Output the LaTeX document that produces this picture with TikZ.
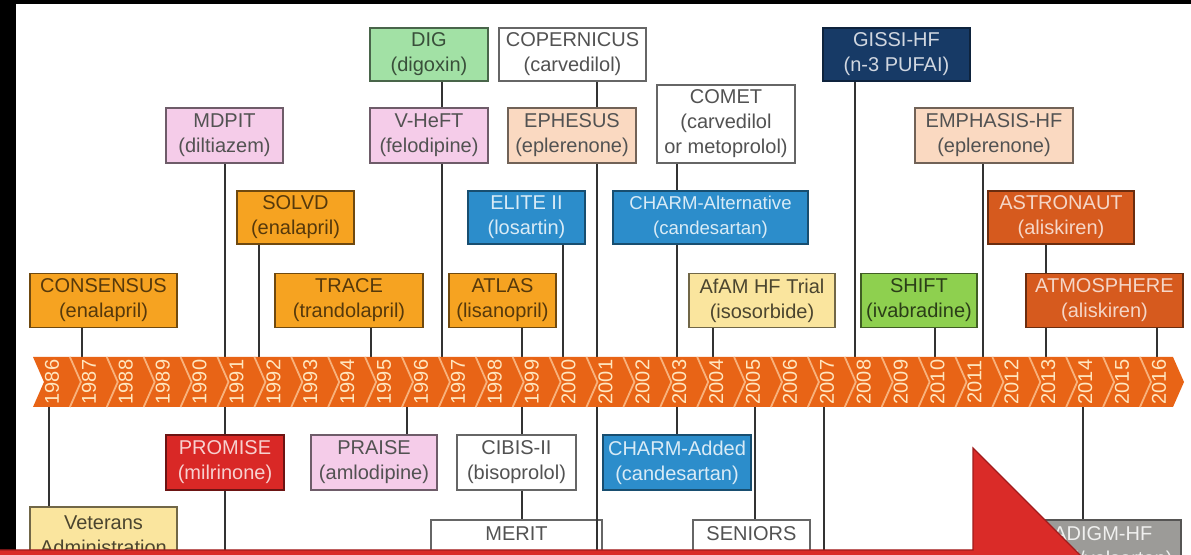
\documentclass[tikz,border=0pt]{standalone}
\usepackage{fontspec}
\setmainfont{Liberation Sans}
\definecolor{cBand}{HTML}{E86416}
\definecolor{cSep}{HTML}{F8B27C}
\definecolor{cYear}{HTML}{FFE6BF}
\definecolor{cOrange}{HTML}{F6A321}
\definecolor{cDOrange}{HTML}{D65A1E}
\definecolor{cBlue}{HTML}{2C8DCB}
\definecolor{cNavy}{HTML}{173A66}
\definecolor{cPink}{HTML}{F5CCE9}
\definecolor{cPeach}{HTML}{FAD9C1}
\definecolor{cYellow}{HTML}{FAE59E}
\definecolor{cGreen}{HTML}{A2E1A5}
\definecolor{cLime}{HTML}{8ED04F}
\definecolor{cRed}{HTML}{D92826}
\definecolor{cGray}{HTML}{9C9B98}
\definecolor{cLine}{HTML}{333333}
\definecolor{cOver}{HTML}{DA2B28}
\definecolor{cOverD}{HTML}{A01C1C}
\tikzset{
 tbox/.style={rectangle, line width=0.9pt, align=center, inner sep=0pt, font=\fontsize{10}{12.5}\selectfont},
 wh/.style 2 args={minimum width=#1*0.5pt, minimum height=#2*0.5pt},
 whitebox/.style={tbox, fill=white, draw=black!60, text=black!68},
 pinkbox/.style={tbox, fill=cPink, draw=cPink!45!black, text=black!68},
 peachbox/.style={tbox, fill=cPeach, draw=cPeach!45!black, text=black!68},
 orangebox/.style={tbox, fill=cOrange, draw=cOrange!45!black, text=cOrange!35!black},
 dorangebox/.style={tbox, fill=cDOrange, draw=cDOrange!50!black, text=cDOrange!25!white},
 bluebox/.style={tbox, fill=cBlue, draw=cBlue!55!black, text=cBlue!18!white},
 navybox/.style={tbox, fill=cNavy, draw=cNavy!60!black, text=cNavy!20!white},
 yellowbox/.style={tbox, fill=cYellow, draw=cYellow!45!black, text=cYellow!30!black},
 greenbox/.style={tbox, fill=cGreen, draw=cGreen!45!black, text=cGreen!35!black},
 limebox/.style={tbox, fill=cLime, draw=cLime!45!black, text=cLime!30!black},
 redbox/.style={tbox, fill=cRed, draw=cRed!50!black, text=cRed!22!white},
 graybox/.style={tbox, fill=cGray, draw=cGray!55!black, text=cGray!15!white},
 conn/.style={draw=cLine, line width=1.2pt},
 sepline/.style={draw=cSep, line width=0.9pt},
 yearlbl/.style={rotate=90, text=cYear, font=\fontsize{10}{12}\selectfont, inner sep=0pt},
}
\begin{document}
\begin{tikzpicture}[x=0.5pt, y=-0.5pt]
\useasboundingbox (0,0) rectangle (1191,555);
\clip (0,0) rectangle (1191,555);
\fill[white] (0,0) rectangle (1191,555);
% boxes above the timeline
\node[greenbox, wh={118}{53}] (dig) at (429,54.5) {DIG\\(digoxin)};
\node[whitebox, wh={147}{53}] (copernicus) at (572.5,54.5) {COPERNICUS\\(carvedilol)};
\node[navybox, wh={147}{53}] (gissi) at (896.5,54.5) {GISSI-HF\\(n-3 PUFAI)};
\node[pinkbox, wh={117}{55}] (mdpit) at (224.5,135.5) {MDPIT\\(diltiazem)};
\node[pinkbox, wh={118}{55}] (vheft) at (429,135.5) {V-HeFT\\(felodipine)};
\node[peachbox, wh={128}{55}] (ephesus) at (572,135.5) {EPHESUS\\(eplerenone)};
\node[whitebox, wh={138}{78}] (comet) at (726,124) {COMET\\(carvedilol\\or metoprolol)};
\node[peachbox, wh={158}{55}] (emphasis) at (994,135.5) {EMPHASIS-HF\\(eplerenone)};
\node[orangebox, wh={117}{53}] (solvd) at (295.5,217.5) {SOLVD\\(enalapril)};
\node[bluebox, wh={117}{53}] (elite) at (526.5,217.5) {ELITE II\\(losartin)};
\node[bluebox, wh={195}{53}, font=\fontsize{9.3}{12.5}\selectfont] (charmalt) at (710.5,217.5) {CHARM-Alternative\\(candesartan)};
\node[dorangebox, wh={146}{53}] (astronaut) at (1061,217.5) {ASTRONAUT\\(aliskiren)};
\node[orangebox, wh={147}{54}] (consensus) at (103.5,300.5) {CONSENSUS\\(enalapril)};
\node[orangebox, wh={148}{54}] (trace) at (349,300.5) {TRACE\\(trandolapril)};
\node[orangebox, wh={107}{54}] (atlas) at (502.5,300.5) {ATLAS\\(lisanopril)};
\node[yellowbox, wh={146}{54}] (afam) at (762,300.5) {AfAM HF Trial\\(isosorbide)};
\node[limebox, wh={116}{54}] (shift) at (919,300.5) {SHIFT\\(ivabradine)};
\node[dorangebox, wh={157}{54}] (atmosphere) at (1104.5,300.5) {ATMOSPHERE\\(aliskiren)};
% boxes below the timeline
\node[redbox, wh={118}{55}] (promise) at (225,462.5) {PROMISE\\(milrinone)};
\node[pinkbox, wh={126}{55}] (praise) at (374,462.5) {PRAISE\\(amlodipine)};
\node[whitebox, wh={119}{55}] (cibis) at (516.5,462.5) {CIBIS-II\\(bisoprolol)};
\node[bluebox, wh={148}{55}] (charmadd) at (677,462.5) {CHARM-Added\\(candesartan)};
\node[yellowbox, wh={147}{56}] (veterans) at (103.5,535) {Veterans\\Administration};
\node[whitebox, wh={147}{56}] (merit) at (516.5,548) {MERIT\\(metoprolol CR/XL)};
\node[whitebox, wh={117}{56}] (seniors) at (751.5,548) {SENIORS\\(nebivolol)};
\node[graybox, wh={196}{56}] (paradigm) at (1083,548) {PARADIGM-HF\\(sacubitril/valsartan)};
% connector points on the timeline
\foreach \x in {49,82,225,259,371,407,442,522,563,597,677,713,755,824,855,935,983,1046,1083,1157}
  {\coordinate (L\x) at (\x,382);}
\coordinate (B597) at (597,562);
\coordinate (B824) at (824,562);
% connectors
\draw[conn] (consensus.south -| L82) -- (L82);
\draw[conn] (mdpit.south -| L225) -- (promise.north -| L225);
\draw[conn] (promise.south -| L225) -- (L225 |- B597);
\draw[conn] (solvd.south -| L259) -- (L259);
\draw[conn] (trace.south -| L371) -- (L371);
\draw[conn] (dig.south -| L442) -- (vheft.north -| L442);
\draw[conn] (vheft.south -| L442) -- (L442);
\draw[conn] (atlas.south -| L522) -- (cibis.north -| L522);
\draw[conn] (cibis.south -| L522) -- (merit.north -| L522);
\draw[conn] (elite.south -| L563) -- (L563);
\draw[conn] (copernicus.south -| L597) -- (ephesus.north -| L597);
\draw[conn] (ephesus.south -| L597) -- (B597);
\draw[conn] (comet.south -| L677) -- (charmalt.north -| L677);
\draw[conn] (charmalt.south -| L677) -- (charmadd.north -| L677);
\draw[conn] (afam.south -| L713) -- (L713);
\draw[conn] (gissi.south -| L855) -- (L855);
\draw[conn] (shift.south -| L935) -- (L935);
\draw[conn] (emphasis.south -| L983) -- (L983);
\draw[conn] (astronaut.south -| L1046) -- (atmosphere.north -| L1046);
\draw[conn] (atmosphere.south -| L1046) -- (L1046);
\draw[conn] (atmosphere.south -| L1157) -- (L1157);
\draw[conn] (L49) -- (veterans.north -| L49);
\draw[conn] (L407) -- (praise.north -| L407);
\draw[conn] (L755) -- (seniors.north -| L755);
\draw[conn] (L824) -- (B824);
\draw[conn] (L1083) -- (paradigm.north -| L1083);
% timeline band
\fill[cBand] (33,357) -- (1173,357) -- (1184,382) -- (1173,407) -- (33,407) -- (44,382) -- cycle;
\foreach \k in {1,...,30}
  {\draw[sepline] ({33+36.9*\k},357) -- ({44+36.9*\k},382) -- ({33+36.9*\k},407);}
\foreach \k in {0,...,30}{
  \pgfmathtruncatemacro{\yr}{1986+\k}
  \node[yearlbl] (yr\yr) at ({52+36.9*\k},382) {\yr};
}
% frame
\fill[black] (0,0) rectangle (16,555);
\fill[black] (0,0) rectangle (1191,4);
% red overlay
\filldraw[fill=cOver, draw=cOverD, line width=0.6pt] (973,448) -- (1082,557) -- (-2,557) -- (-2,550) -- (973,550) -- cycle;
\end{tikzpicture}
\end{document}
